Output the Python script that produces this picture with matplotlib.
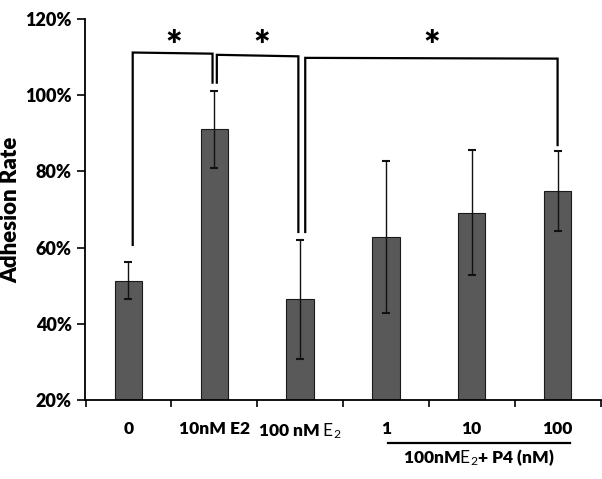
import matplotlib
matplotlib.use("Agg")
import matplotlib.pyplot as plt
import matplotlib.transforms as mtransforms
from matplotlib.ticker import FixedLocator, PercentFormatter

plt.rcParams['font.family'] = ['Lato', 'DejaVu Sans']
plt.rcParams['mathtext.fontset'] = 'custom'
plt.rcParams['mathtext.rm'] = 'Lato'
plt.rcParams['mathtext.it'] = 'Lato'

categories = ["0", "10nM E2", r"100 nM $\mathrm{E_2}$", "1", "10", "100"]
values = [51.3, 91.0, 46.4, 62.8, 69.2, 74.9]
errors = [4.8, 10.2, 15.6, 19.9, 16.4, 10.5]
yticks = [20, 40, 60, 80, 100, 120]
group_label = r"100nM$\mathrm{E_2}$+ P4 (nM)"

# significance brackets: (x_left, x_right, y_left_top, y_right_top, y_left_bottom, y_right_bottom, star_x)
brackets = [
    (0.05, 0.98, 111.2, 110.9, 60.7, 103.3, 0.53),
    (1.03, 1.98, 110.6, 110.2, 103.3, 64.1, 1.55),
    (2.06, 5.00, 109.8, 109.6, 64.1, 86.9, 3.53),
]
star_y = 112.6

fig = plt.figure(figsize=(6.02, 4.79), dpi=100)
ax = fig.add_axes([85.5/602, 79/479, 515/602, 381/479])

x = list(range(len(categories)))
ax.bar(x, [v - 20 for v in values], bottom=20, width=0.32, color='#595959',
       edgecolor='#1a1a1a', linewidth=0.8, zorder=2)
ax.errorbar(x, values, yerr=errors, fmt='none', ecolor='#111111', elinewidth=1.0,
            capsize=3, capthick=1.5, zorder=3)

for xl, xr, ylt, yrt, ylb, yrb, sx in brackets:
    ax.plot([xl, xl, xr, xr], [ylb, ylt, yrt, yrb], color='black', lw=1.6,
            clip_on=False, zorder=4, solid_joinstyle='miter')
    ax.text(sx, star_y, "*", ha='center', va='center', fontsize=28,
            fontweight='heavy', clip_on=False)

ax.set_xlim(-0.5, 5.5)
ax.set_ylim(20, 120)
ax.yaxis.set_major_locator(FixedLocator(yticks))
ax.yaxis.set_major_formatter(PercentFormatter(decimals=0))
ax.set_xticks(x)
ax.set_xticklabels(categories, fontweight='heavy', fontsize=12.5)
ax.xaxis.set_minor_locator(FixedLocator([i - 0.5 for i in range(len(categories) + 1)]))
ax.tick_params(axis='x', which='major', length=0, pad=15)
ax.tick_params(axis='x', which='minor', length=5, width=1.2, direction='out')
ax.tick_params(axis='y', length=6, width=1.2, direction='out', labelsize=13, pad=4)
for lab in ax.get_yticklabels():
    lab.set_fontweight('heavy')

for s in ['top', 'right']:
    ax.spines[s].set_visible(False)
for s in ['left', 'bottom']:
    ax.spines[s].set_linewidth(1.3)

ax.set_ylabel("Adhesion Rate", fontsize=16, fontweight='heavy', labelpad=3)

trans = mtransforms.blended_transform_factory(ax.transData, fig.transFigure)
ax.plot([3.02, 5.15], [1 - 442.7/479, 1 - 442.7/479], color='black', lw=1.6,
        transform=trans, clip_on=False)
ax.text(4.08, 1 - 458/479, group_label, transform=trans, ha='center', va='center',
        fontsize=12.5, fontweight='heavy')

fig.savefig("out.png", dpi=100)
